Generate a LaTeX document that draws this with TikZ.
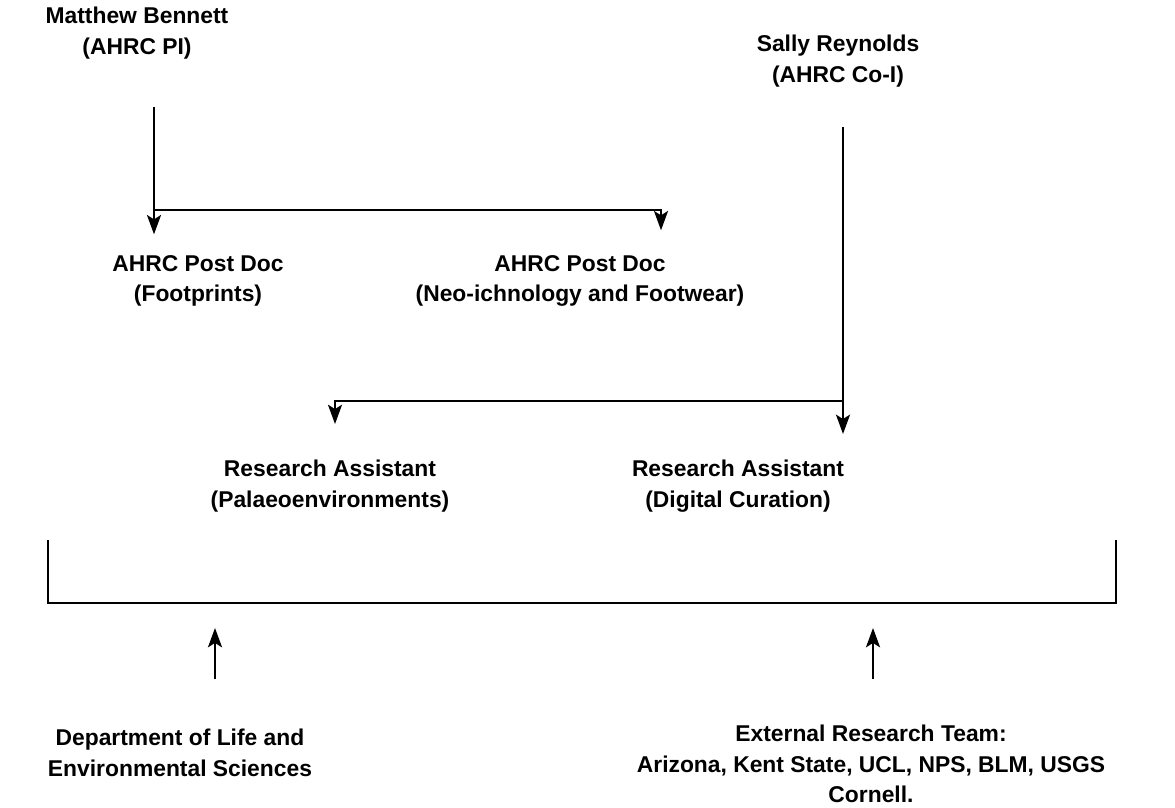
\documentclass[tikz,border=0pt]{standalone}
\usepackage{fontspec}
\setmainfont{Liberation Sans}
\usetikzlibrary{arrows.meta}

\begin{document}
\begin{tikzpicture}[x=0.02cm,y=-0.02cm,line width=1.1pt,
	role/.style={align=center,font=\fontsize{13}{17.5}\selectfont\bfseries,inner sep=0pt},
	tip/.style={-{Stealth[length=11pt,width=8pt,inset=2.5pt]}}]
	\useasboundingbox (0,0) rectangle (1175,807);
	
	%PEOPLE
	\node[role] (mb)  at (137,33)  {Matthew Bennett\\(AHRC PI)};
	\node[role] (sr)  at (838,61)  {Sally Reynolds\\(AHRC Co-I)};
	\node[role] (pdf) at (198,281) {AHRC Post Doc\\(Footprints)};
	\node[role] (pdn) at (580,281) {AHRC Post Doc\\(Neo-ichnology and Footwear)};
	\node[role] (rap) at (330,486) {Research Assistant\\(Palaeoenvironments)};
	\node[role] (rad) at (738,486) {Research Assistant\\(Digital Curation)};
	\node[role] (dept) at (180,753) {Department of Life and\\Environmental Sciences};
	\node[role] (ext)  at (871,764) {External Research Team:\\Arizona, Kent State, UCL, NPS, BLM, USGS\\Cornell.};
	
	%JUNCTIONS
	\coordinate (mbtop) at (154,107);
	\coordinate (mbj)   at (154,210);
	\coordinate (srtop) at (843,127);
	\coordinate (srj)   at (843,401);
	\coordinate (pdnx)  at (661,210);
	\coordinate (rapx)  at (335,401);
	\coordinate (lup)   at (215,628);
	\coordinate (rup)   at (873,628);
	
	%LINES DOWN
	\draw[tip,shorten >=0.4cm] (mbtop) -- (mbtop |- pdf.north);
	\draw[tip,shorten >=0.48cm] (mbj) -- (pdnx) -- (pdnx |- pdn.north);
	\draw[tip,shorten >=0.5cm] (srtop) -- (srtop |- rad.north);
	\draw[tip,shorten >=0.7cm] (srj) -- (rapx) -- (rapx |- rap.north);
	
	%BRACKET
	\draw (48,540) -- (48,603) -- (1116,603) -- (1116,540);
	
	%LINES UP
	\draw[tip,shorten <=0.98cm] (lup |- dept.north) -- (lup);
	\draw[tip,shorten <=0.9cm] (rup |- ext.north) -- (rup);
\end{tikzpicture}
\end{document}
